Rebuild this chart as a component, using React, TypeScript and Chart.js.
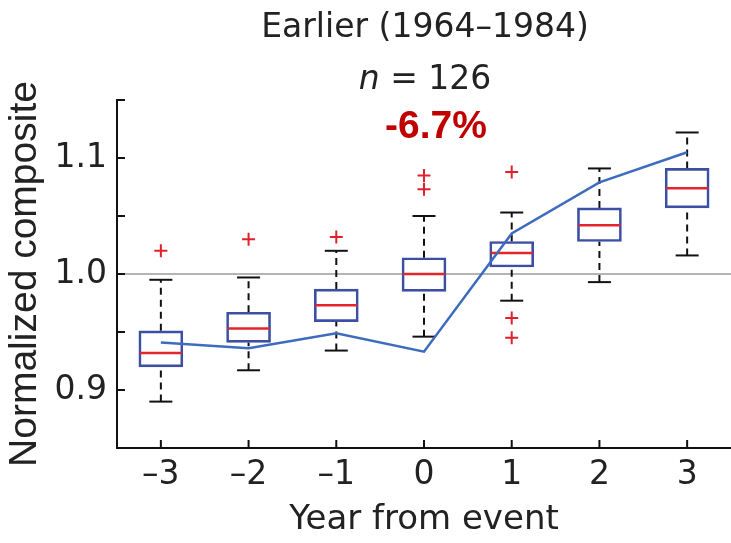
import React, { useEffect, useRef } from 'react';
import { Chart, registerables } from 'chart.js';

Chart.register(...registerables);

// ---- data ----
const years = [-3, -2, -1, 0, 1, 2, 3];
const xTickLabels = ['–3', '–2', '–1', '0', '1', '2', '3'];
const yTickValues = [0.85, 0.9, 0.95, 1.0, 1.05, 1.1, 1.15];
const yTickLabels = ['', '0.9', '', '1.0', '', '1.1', ''];

const whiskerLow = [0.890, 0.917, 0.934, 0.946, 0.977, 0.993, 1.016];
const quartile1 = [0.920, 0.941, 0.959, 0.985, 1.006, 1.028, 1.057];
const medians = [0.932, 0.953, 0.973, 1.000, 1.018, 1.042, 1.074];
const quartile3 = [0.951, 0.967, 0.987, 1.014, 1.028, 1.057, 1.091];
const whiskerHigh = [0.995, 0.997, 1.020, 1.050, 1.053, 1.091, 1.122];

const outlierYears = [-3, -2, -1, 0, 0, 1, 1, 1];
const outlierValues = [1.020, 1.030, 1.032, 1.085, 1.073, 1.088, 0.962, 0.945];

const compositeLine = [0.941, 0.936, 0.949, 0.933, 1.035, 1.079, 1.105];

const referenceLevel = 1.0;
const xMin = -3.5;
const xMax = 3.5;

const inwardTicks = {
  id: 'inwardTicks',
  afterDraw(chart: any) {
    const { ctx, chartArea, scales } = chart;
    ctx.save();
    ctx.strokeStyle = '#111';
    ctx.lineWidth = 2;
    ctx.beginPath();
    scales.y.ticks.forEach((t: any) => {
      const y = scales.y.getPixelForValue(t.value);
      ctx.moveTo(chartArea.left, y);
      ctx.lineTo(chartArea.left + 8, y);
    });
    scales.x.ticks.forEach((t: any) => {
      const x = scales.x.getPixelForValue(t.value);
      ctx.moveTo(x, chartArea.bottom);
      ctx.lineTo(x, chartArea.bottom - 8);
    });
    ctx.stroke();
    ctx.restore();
  },
};

export default function App() {
  const canvasRef = useRef<HTMLCanvasElement | null>(null);

  useEffect(() => {
    const canvas = canvasRef.current;
    if (!canvas) return;

    const whiskerData: any[] = [];
    years.forEach((x, i) => {
      whiskerData.push({ x, y: whiskerLow[i] });
      whiskerData.push({ x, y: quartile1[i] });
      whiskerData.push({ x, y: null });
      whiskerData.push({ x, y: quartile3[i] });
      whiskerData.push({ x, y: whiskerHigh[i] });
      whiskerData.push({ x, y: null });
    });

    const capData: any[] = [];
    years.forEach((x, i) => {
      capData.push({ x, y: whiskerLow[i] });
      capData.push({ x, y: whiskerHigh[i] });
    });

    const chart = new Chart(canvas, {
      type: 'bar',
      data: {
        datasets: [
          {
            type: 'line',
            data: [
              { x: xMin, y: referenceLevel },
              { x: xMax, y: referenceLevel },
            ],
            borderColor: '#9b9b9b',
            borderWidth: 1.5,
            pointRadius: 0,
            order: 10,
          } as any,
          {
            type: 'line',
            data: whiskerData,
            borderColor: '#111',
            borderWidth: 2,
            borderDash: [7, 5],
            pointRadius: 0,
            spanGaps: false,
            order: 8,
          } as any,
          {
            type: 'bar',
            data: years.map((x, i) => ({ x, y: [quartile1[i], quartile3[i]] })),
            backgroundColor: 'rgba(0,0,0,0)',
            borderColor: '#3d4fa3',
            borderWidth: 2,
            borderSkipped: false,
            barThickness: 44,
            grouped: false,
            order: 6,
          } as any,
          {
            type: 'scatter',
            data: capData,
            pointStyle: 'line',
            radius: 11.5,
            borderColor: '#111',
            borderWidth: 2,
            order: 5,
          } as any,
          {
            type: 'scatter',
            data: years.map((x, i) => ({ x, y: medians[i] })),
            pointStyle: 'line',
            radius: 21,
            borderColor: '#e2262b',
            borderWidth: 2.5,
            order: 4,
          } as any,
          {
            type: 'scatter',
            data: outlierYears.map((x, i) => ({ x, y: outlierValues[i] })),
            pointStyle: 'cross',
            radius: 6.5,
            borderColor: '#e0202a',
            borderWidth: 2,
            order: 3,
          } as any,
          {
            type: 'line',
            data: years.map((x, i) => ({ x, y: compositeLine[i] })),
            borderColor: '#3d6cbf',
            borderWidth: 2.5,
            pointRadius: 0,
            order: 1,
          } as any,
        ],
      },
      options: {
        responsive: false,
        animation: false,
        events: [],
        layout: { autoPadding: false, padding: { top: 100, left: 0, right: 0, bottom: 0 } },
        plugins: {
          legend: { display: false },
          tooltip: { enabled: false },
          title: { display: false },
        },
        scales: {
          x: {
            type: 'linear',
            min: xMin,
            max: xMax,
            offset: false,
            grid: { display: false, drawTicks: false, offset: false },
            border: { display: true, color: '#111', width: 2 },
            afterBuildTicks: (scale: any) => {
              scale.ticks = years.map((v) => ({ value: v }));
            },
            afterFit: (scale: any) => {
              scale.height = 95;
              scale.paddingLeft = 0;
              scale.paddingRight = 0;
            },
            ticks: {
              autoSkip: false,
              maxRotation: 0,
              padding: 8,
              color: '#222',
              font: { family: 'DejaVu Sans', size: 33 },
              callback: (_v: any, i: number) => xTickLabels[i],
            },
            title: {
              display: true,
              text: 'Year from event',
              color: '#222',
              font: { family: 'DejaVu Sans', size: 34, lineHeight: 1.2 },
              padding: { top: 0, bottom: 2 },
            },
          },
          y: {
            type: 'linear',
            min: yTickValues[0],
            max: yTickValues[yTickValues.length - 1],
            grid: { display: false, drawTicks: false },
            border: { display: true, color: '#111', width: 2 },
            afterBuildTicks: (scale: any) => {
              scale.ticks = yTickValues.map((v) => ({ value: v }));
            },
            afterFit: (scale: any) => {
              scale.width = 117;
              scale.paddingTop = 0;
              scale.paddingBottom = 0;
            },
            ticks: {
              autoSkip: false,
              padding: 10,
              color: '#222',
              font: { family: 'DejaVu Sans', size: 33 },
              callback: (_v: any, i: number) => yTickLabels[i],
            },
            title: {
              display: true,
              text: 'Normalized composite',
              color: '#222',
              font: { family: 'Liberation Sans', size: 39, lineHeight: 1.2 },
              padding: { top: 2, bottom: 0 },
            },
          },
        },
      } as any,
      plugins: [inwardTicks],
    });

    return () => chart.destroy();
  }, []);

  const headStyle: React.CSSProperties = {
    position: 'absolute',
    left: 425,
    transform: 'translateX(-50%)',
    whiteSpace: 'nowrap',
    lineHeight: 1,
    color: '#222',
    fontFamily: 'DejaVu Sans',
    fontSize: 33,
  };

  return (
    <div
      style={{
        position: 'fixed',
        left: 0,
        top: 0,
        width: 731,
        height: 543,
        background: '#fff',
        overflow: 'hidden',
      }}
    >
      <canvas ref={canvasRef} width={731} height={543} style={{ display: 'block' }} />
      <div style={{ ...headStyle, top: 9 }}>Earlier (1964–1984)</div>
      <div style={{ ...headStyle, top: 61 }}>
        <i>n</i> = 126
      </div>
      <div
        style={{
          ...headStyle,
          left: 436,
          top: 105,
          color: '#c00000',
          fontFamily: 'Liberation Sans',
          fontWeight: 'bold',
          fontSize: 39,
        }}
      >
        -6.7%
      </div>
    </div>
  );
}
